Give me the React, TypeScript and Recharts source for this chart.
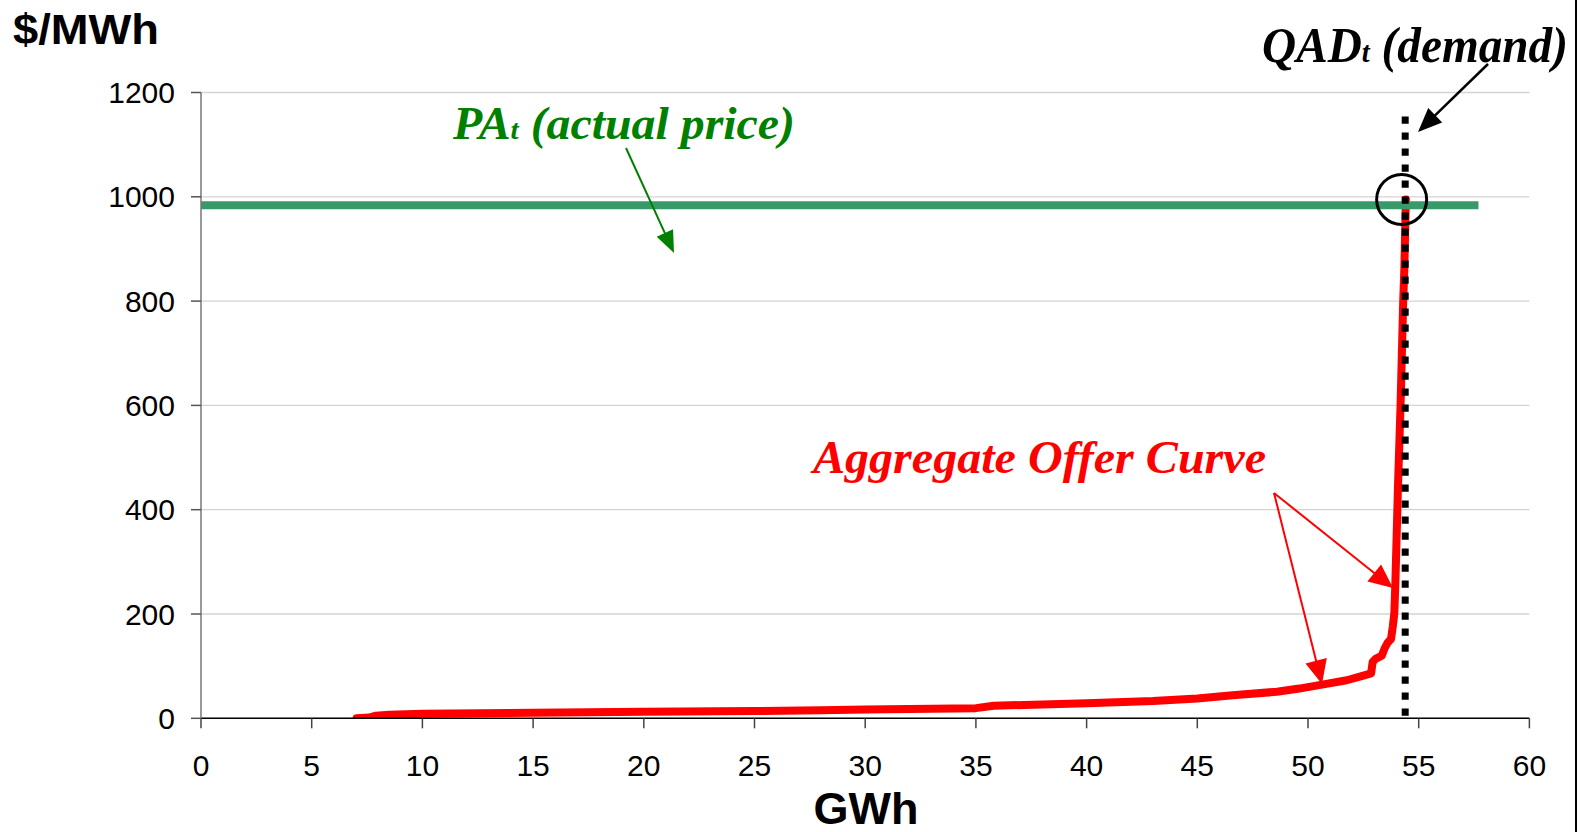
import React from "react";
import { LineChart, Line, XAxis, YAxis, CartesianGrid, ReferenceDot } from "recharts";

// Aggregate offer curve (GWh, $/MWh)
const offerX = [7.03, 7.6, 7.9, 8.5, 10, 15, 20, 25, 28, 30, 35, 35.8, 40, 43, 45, 46.6, 48.6, 49.6, 50.7, 51.75, 52.5, 52.85, 52.92, 53.05, 53.33, 53.47, 53.6, 53.75, 53.83, 53.9, 53.95, 54.06, 54.18, 54.3, 54.35, 54.42];
const offerY = [0, 1.5, 5, 7, 8.5, 10.5, 12.5, 14, 15.5, 17, 19.5, 24, 29, 33, 38, 44, 51, 57, 65, 73, 82, 86, 108, 114, 120, 135, 145, 152, 176, 202, 265, 438, 600, 800, 860, 995];

// Actual price line
const priceX = [0, 57.7];
const priceY = [984, 984];

// Demand (QAD) vertical line
const demandX = [54.39, 54.39];
const demandY = [1154, 0];

// Intersection marker
const crossX = 54.23;
const crossY = 995;

const xTicks = [0, 5, 10, 15, 20, 25, 30, 35, 40, 45, 50, 55, 60];
const yTicks = [0, 200, 400, 600, 800, 1000, 1200];

const offerData = offerX.map((x, i) => ({ x, y: offerY[i] }));
const priceData = priceX.map((x, i) => ({ x, y: priceY[i] }));
const demandData = demandX.map((x, i) => ({ x, y: demandY[i] }));

const SANS = "'Liberation Sans', Arial, sans-serif";
const SERIF = "'Liberation Serif', 'Times New Roman', serif";

function Arrow({ x1, y1, x2, y2, color, width, head, half }: { x1: number; y1: number; x2: number; y2: number; color: string; width: number; head: number; half: number }) {
  const dx = x2 - x1;
  const dy = y2 - y1;
  const len = Math.sqrt(dx * dx + dy * dy);
  const ux = dx / len;
  const uy = dy / len;
  const bx = x2 - ux * head;
  const by = y2 - uy * head;
  const px = -uy;
  const py = ux;
  const pts = `${x2},${y2} ${bx + px * half},${by + py * half} ${bx - px * half},${by - py * half}`;
  return (
    <g>
      <line x1={x1} y1={y1} x2={bx + ux * 2} y2={by + uy * 2} stroke={color} strokeWidth={width} />
      <polygon points={pts} fill={color} />
    </g>
  );
}

export default function App() {
  return (
    <div style={{ position: "absolute", left: 0, top: 0, width: 1581, height: 832, background: "#fff" }}>
      <LineChart width={1581} height={832} margin={{ top: 92.5, right: 51.6, bottom: 53.7, left: 0 }}>
        <CartesianGrid horizontal vertical={false} stroke="#d4d4d4" strokeWidth={1.3} />
        <XAxis
          type="number"
          dataKey="x"
          domain={[0, 60]}
          ticks={xTicks}
          interval={0}
          height={60}
          tickSize={10}
          tickMargin={26}
          axisLine={{ stroke: "#000", strokeWidth: 1.5 }}
          tickLine={{ stroke: "#444", strokeWidth: 1.5 }}
          tick={{ fill: "#000", fontSize: 30, fontFamily: SANS }}
          allowDataOverflow
        />
        <YAxis
          type="number"
          dataKey="y"
          domain={[0, 1200]}
          ticks={yTicks}
          interval={0}
          width={201}
          tickSize={10}
          tickMargin={16}
          axisLine={{ stroke: "#777", strokeWidth: 1.5 }}
          tickLine={{ stroke: "#555", strokeWidth: 1.5 }}
          tick={{ fill: "#000", fontSize: 30, fontFamily: SANS }}
          allowDataOverflow
        />
        <Line
          data={offerData}
          dataKey="y"
          type="linear"
          stroke="#ff0000"
          strokeWidth={8}
          strokeLinecap="round"
          strokeLinejoin="round"
          dot={false}
          activeDot={false}
          isAnimationActive={false}
        />
        <Line
          data={priceData}
          dataKey="y"
          type="linear"
          stroke="#389a68"
          strokeWidth={8}
          dot={false}
          activeDot={false}
          isAnimationActive={false}
        />
        <Line
          data={demandData}
          dataKey="y"
          type="linear"
          stroke="#000"
          strokeWidth={7}
          strokeDasharray="7.3 8.7"
          dot={false}
          activeDot={false}
          isAnimationActive={false}
        />
        <ReferenceDot x={crossX} y={crossY} r={25} fill="none" stroke="#000" strokeWidth={3} ifOverflow="visible" />
      </LineChart>
      <svg width={1581} height={832} style={{ position: "absolute", left: 0, top: 0, pointerEvents: "none" }}>
        <text x={13} y={43.5} fontFamily={SANS} fontWeight="bold" fontSize={42} fill="#000" textLength={146} lengthAdjust="spacingAndGlyphs">
          $/MWh
        </text>
        <text x={866} y={824} textAnchor="middle" fontFamily={SANS} fontWeight="bold" fontSize={45} fill="#000">
          GWh
        </text>
        <text x={453} y={139} fontFamily={SERIF} fontWeight="bold" fontStyle="italic" fontSize={46} fill="#008000" textLength={342} lengthAdjust="spacingAndGlyphs">
          PA<tspan fontSize={28}>t</tspan> (actual price)
        </text>
        <Arrow x1={626} y1={148} x2={674} y2={253} color="#008000" width={2} head={22} half={9} />
        <text x={1262} y={62} fontFamily={SERIF} fontWeight="bold" fontStyle="italic" fontSize={50} fill="#000" textLength={306} lengthAdjust="spacingAndGlyphs">
          QAD<tspan fontSize={30}>t</tspan> (demand)
        </text>
        <Arrow x1={1488} y1={64} x2={1418} y2={132} color="#000" width={2.5} head={24} half={10} />
        <text x={813} y={473} fontFamily={SERIF} fontWeight="bold" fontStyle="italic" fontSize={46} fill="#ff0000" textLength={453} lengthAdjust="spacingAndGlyphs">
          Aggregate Offer Curve
        </text>
        <Arrow x1={1274} y1={493} x2={1393} y2={588} color="#ff0000" width={2} head={24} half={11} />
        <Arrow x1={1274} y1={493} x2={1322} y2={684} color="#ff0000" width={2} head={24} half={11} />
        <line x1={1576} y1={0} x2={1576} y2={832} stroke="#000" strokeWidth={2} />
      </svg>
    </div>
  );
}
